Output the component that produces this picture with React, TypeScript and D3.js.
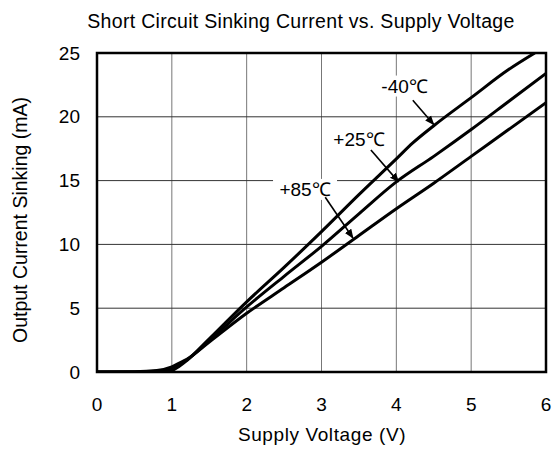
import * as d3 from 'd3';

// Supply voltage (V) sample points for each temperature curve
const voltsM40 = [0, 0.5, 0.8, 1.0, 1.1, 1.2, 1.5, 2.0, 2.5, 3.0, 3.5, 4.0, 4.22, 4.5, 5.0, 5.5, 5.85];
const ampsM40 = [0, 0, 0.02, 0.12, 0.45, 0.9, 2.6, 5.5, 8.2, 11.0, 13.9, 16.7, 17.95, 19.3, 21.5, 23.7, 25];

const voltsP25 = [0, 0.5, 0.8, 1.0, 1.1, 1.2, 1.5, 2.0, 2.5, 3.0, 3.5, 4.0, 4.5, 5.0, 5.5, 6.0];
const ampsP25 = [0, 0, 0.05, 0.3, 0.6, 0.95, 2.45, 5.1, 7.5, 9.85, 12.4, 14.9, 16.9, 19.0, 21.2, 23.4];

const voltsP85 = [0, 0.5, 0.8, 1.0, 1.1, 1.2, 1.5, 2.0, 2.5, 3.0, 3.5, 4.0, 4.5, 5.0, 5.5, 6.0];
const ampsP85 = [0, 0.02, 0.12, 0.4, 0.7, 1.0, 2.35, 4.6, 6.6, 8.6, 10.7, 12.8, 14.8, 16.9, 19.0, 21.1];

const xTicks = [0, 1, 2, 3, 4, 5, 6];
const yTicks = [0, 5, 10, 15, 20, 25];

// label text, label anchor (V, mA) and arrow start / tip (V, mA)
const labels = ['-40℃', '+25℃', '+85℃'];
const labelPos = [[4.11, 21.9], [3.5, 17.7], [2.78, 13.8]];
const arrowFrom = [[4.22, 21.3], [3.66, 17.4], [3.05, 13.7]];
const arrowTo = [[4.5, 19.4], [4.03, 14.9], [3.42, 10.5]];

export default function App() {
  const width = 552;
  const height = 452;
  const margin = { top: 53, right: 6, bottom: 80, left: 97 };
  const font = 'Arial, "Liberation Sans", sans-serif';

  const x = d3.scaleLinear().domain([0, 6]).range([margin.left, width - margin.right]);
  const y = d3.scaleLinear().domain([0, 25]).range([height - margin.bottom, margin.top]);

  const line = d3
    .line<number[]>()
    .x((d) => x(d[0]))
    .y((d) => y(d[1]))
    .curve(d3.curveMonotoneX);

  const series = [
    d3.zip(voltsM40, ampsM40),
    d3.zip(voltsP25, ampsP25),
    d3.zip(voltsP85, ampsP85),
  ];

  return (
    <svg
      width={width}
      height={height}
      style={{ position: 'absolute', left: 0, top: 0, background: '#fff' }}
      fontFamily={font}
    >
      <defs>
        <marker id='arrow' viewBox='0 0 10 10' refX='9' refY='5' markerWidth='6' markerHeight='6' orient='auto'>
          <path d='M0,1 L10,5 L0,9 z' fill='#000' />
        </marker>
        <clipPath id='plot'>
          <rect x={x(0)} y={y(25)} width={x(6) - x(0)} height={y(0) - y(25)} />
        </clipPath>
      </defs>

      {/* title */}
      <text x={301} y={28} textAnchor='middle' fontSize={19.5} letterSpacing={0.3} fill='#000'>
        Short Circuit Sinking Current vs. Supply Voltage
      </text>

      {/* grid */}
      {xTicks.map((t) => (
        <line key={'gx' + t} x1={x(t)} x2={x(t)} y1={y(0)} y2={y(25)} stroke='#777' strokeWidth={1} />
      ))}
      {yTicks.map((t) => (
        <line key={'gy' + t} x1={x(0)} x2={x(6)} y1={y(t)} y2={y(t)} stroke='#333' strokeWidth={1} />
      ))}

      {/* curves */}
      <g clipPath='url(#plot)'>
        {series.map((s, i) => (
          <path key={i} d={line(s) || ''} fill='none' stroke='#000' strokeWidth={3} strokeLinejoin='round' />
        ))}
      </g>

      {/* frame */}
      <rect x={x(0)} y={y(25)} width={x(6) - x(0)} height={y(0) - y(25)} fill='none' stroke='#000' strokeWidth={2.5} />

      {/* annotations */}
      {labels.map((l, i) => (
        <g key={l}>
          <rect
            x={x(labelPos[i][0]) - 32}
            y={y(labelPos[i][1]) - 17}
            width={64}
            height={21}
            fill='#fff'
          />
          <text x={x(labelPos[i][0])} y={y(labelPos[i][1])} textAnchor='middle' fontSize={19} fill='#000'>
            {l}
          </text>
          <line
            x1={x(arrowFrom[i][0])}
            y1={y(arrowFrom[i][1])}
            x2={x(arrowTo[i][0])}
            y2={y(arrowTo[i][1])}
            stroke='#000'
            strokeWidth={1.6}
            markerEnd='url(#arrow)'
          />
        </g>
      ))}

      {/* tick labels */}
      {xTicks.map((t) => (
        <text key={'tx' + t} x={x(t)} y={411} textAnchor='middle' fontSize={19} fill='#000'>
          {t}
        </text>
      ))}
      {yTicks.map((t) => (
        <text key={'ty' + t} x={80} y={y(t)} dy='0.35em' textAnchor='end' fontSize={19} fill='#000'>
          {t}
        </text>
      ))}

      {/* axis titles */}
      <text x={322} y={441} textAnchor='middle' fontSize={19} letterSpacing={0.6} fill='#000'>
        Supply Voltage (V)
      </text>
      <text
        transform={`translate(27, 220) rotate(-90)`}
        textAnchor='middle'
        fontSize={19.5}
        fill='#000'
      >
        Output Current Sinking (mA)
      </text>
    </svg>
  );
}
